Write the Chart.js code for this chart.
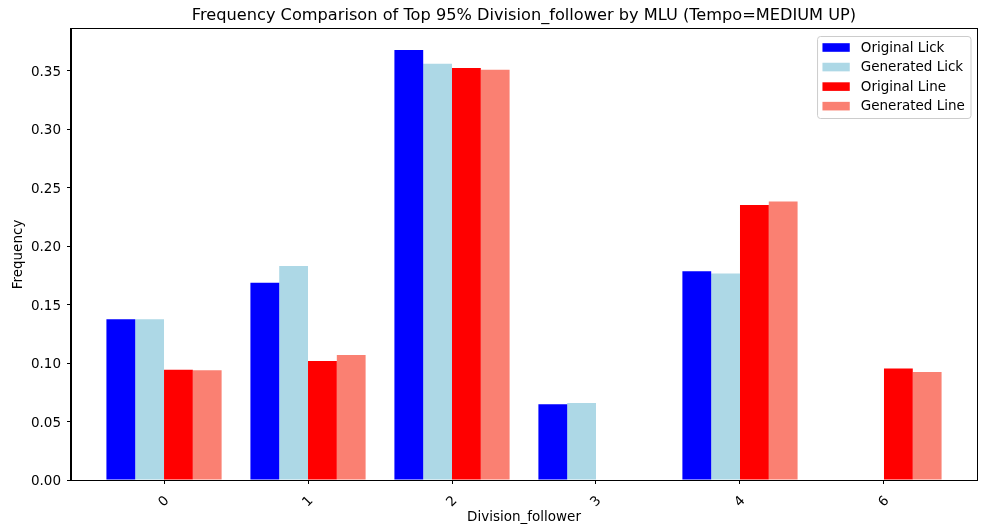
<!DOCTYPE html>
<html>
<head>
<meta charset="utf-8">
<script src="https://cdn.jsdelivr.net/npm/chart.js@4/dist/chart.umd.min.js"></script>
<style>
  html, body { margin: 0; padding: 0; background: #ffffff; }
  #wrap { width: 981px; height: 529px; }
</style>
</head>
<body>
<div id="wrap"><canvas id="chart" width="981" height="529"></canvas></div>
<script>
// Category labels (the x axis keeps them as evenly spaced slots)
const categories = ['0', '1', '2', '3', '4', '6'];

// Frequencies per division_follower value
const originalLick  = [0.1376, 0.1687, 0.3679, 0.0648, 0.1787, null];
const generatedLick = [0.1376, 0.1832, 0.3562, 0.0659, 0.1767, null];
const originalLine  = [0.0944, 0.1019, 0.3525, null,   0.2354, 0.0953];
const generatedLine = [0.0939, 0.1070, 0.3510, null,   0.2383, 0.0925];

const yTicks = [0, 0.05, 0.10, 0.15, 0.20, 0.25, 0.30, 0.35];

const chartTitle = 'Frequency Comparison of Top 95% Division_follower by MLU (Tempo=MEDIUM UP)';

const FONT = '"DejaVu Sans", "Liberation Sans", sans-serif';

function toPoints(values) {
  return values.map((v, i) => ({ x: i, y: v }));
}

// Black frame around the plotting area
const frame = {
  id: 'frame',
  afterDatasetsDraw(chart) {
    const { ctx, chartArea: a } = chart;
    ctx.save();
    ctx.strokeStyle = '#000000';
    ctx.lineWidth = 1;
    ctx.strokeRect(Math.round(a.left) - 0.5, Math.round(a.top) - 0.5,
                   Math.round(a.right - a.left) + 1, Math.round(a.bottom - a.top) + 1);
    ctx.restore();
  }
};

// Title centred over the plotting area
const plotTitle = {
  id: 'plotTitle',
  afterDraw(chart) {
    const { ctx, chartArea: a } = chart;
    ctx.save();
    ctx.font = '16.2px ' + FONT;
    ctx.fillStyle = '#000000';
    ctx.textAlign = 'center';
    ctx.textBaseline = 'middle';
    ctx.fillText(chartTitle, (a.left + a.right) / 2, 16);
    ctx.restore();
  }
};

// Boxed legend in the upper right corner of the plotting area
const boxLegend = {
  id: 'boxLegend',
  afterDraw(chart) {
    const { ctx, chartArea: a } = chart;
    const sets = chart.data.datasets;
    ctx.save();
    ctx.font = '13.5px ' + FONT;
    const textW = Math.max(...sets.map(d => ctx.measureText(d.label).width));
    const padL = 5.4, patchW = 27.3, patchH = 8.6, gap = 11, padR = 5.7;
    const rowH = 19.55, firstRow = 11.5;
    const w = padL + patchW + gap + textW + padR;
    const h = 82;
    const x = a.right - 6.5 - w;
    const y = a.top + 7;
    ctx.beginPath();
    ctx.roundRect(x + 0.5, y + 0.5, w, h, 3);
    ctx.fillStyle = 'rgba(255,255,255,0.8)';
    ctx.fill();
    ctx.strokeStyle = '#cccccc';
    ctx.lineWidth = 1;
    ctx.stroke();
    ctx.textBaseline = 'middle';
    ctx.textAlign = 'left';
    sets.forEach((d, i) => {
      const cy = y + firstRow + i * rowH;
      ctx.fillStyle = d.backgroundColor;
      ctx.fillRect(x + padL, cy - patchH / 2, patchW, patchH);
      ctx.fillStyle = '#000000';
      ctx.fillText(d.label, x + padL + patchW + gap, cy + 0.5);
    });
    ctx.restore();
  }
};

const common = { borderWidth: 0, barPercentage: 1.0, categoryPercentage: 0.8 };

new Chart(document.getElementById('chart'), {
  type: 'bar',
  data: {
    datasets: [
      { label: 'Original Lick',  data: toPoints(originalLick),  backgroundColor: '#0000ff', ...common },
      { label: 'Generated Lick', data: toPoints(generatedLick), backgroundColor: '#add8e6', ...common },
      { label: 'Original Line',  data: toPoints(originalLine),  backgroundColor: '#ff0000', ...common },
      { label: 'Generated Line', data: toPoints(generatedLine), backgroundColor: '#fa8072', ...common }
    ]
  },
  options: {
    responsive: false,
    animation: false,
    devicePixelRatio: 1,
    layout: { padding: { left: 0, right: 4, top: 29, bottom: 0 } },
    plugins: {
      legend: { display: false },
      tooltip: { enabled: false },
      title: { display: false }
    },
    scales: {
      x: {
        type: 'linear',
        min: -0.646,
        max: categories.length - 1 + 0.646,
        offset: false,
        afterFit(scale) { scale.height = 49; },
        afterBuildTicks(scale) { scale.ticks = categories.map((c, i) => ({ value: i })); },
        grid: { offset: false, drawOnChartArea: false, drawTicks: true, tickLength: 4, color: '#000000', tickColor: '#000000' },
        border: { display: true, color: '#000000', width: 1 },
        ticks: {
          autoSkip: false,
          minRotation: 45,
          maxRotation: 45,
          padding: 9,
          labelOffset: 3,
          color: '#000000',
          font: { family: FONT, size: 13.5 },
          callback: (v) => categories[Math.round(v)]
        },
        title: {
          display: true,
          text: 'Division_follower',
          color: '#000000',
          font: { family: FONT, size: 13.5 },
          padding: { top: 0, bottom: 3.5 }
        }
      },
      y: {
        min: 0,
        max: 0.3859,
        afterFit(scale) { scale.width = 71; },
        afterBuildTicks(scale) { scale.ticks = yTicks.map(v => ({ value: v })); },
        grid: { drawOnChartArea: false, drawTicks: true, tickLength: 4, color: '#000000', tickColor: '#000000' },
        border: { display: true, color: '#000000', width: 1 },
        ticks: {
          padding: 6,
          labelOffset: 1.5,
          color: '#000000',
          font: { family: FONT, size: 13.5 },
          callback: (v) => Number(v).toFixed(2)
        },
        title: {
          display: true,
          text: 'Frequency',
          color: '#000000',
          font: { family: FONT, size: 13.5 },
          padding: { top: 10.5, bottom: 0 }
        }
      }
    }
  },
  plugins: [frame, plotTitle, boxLegend]
});
</script>
</body>
</html>
